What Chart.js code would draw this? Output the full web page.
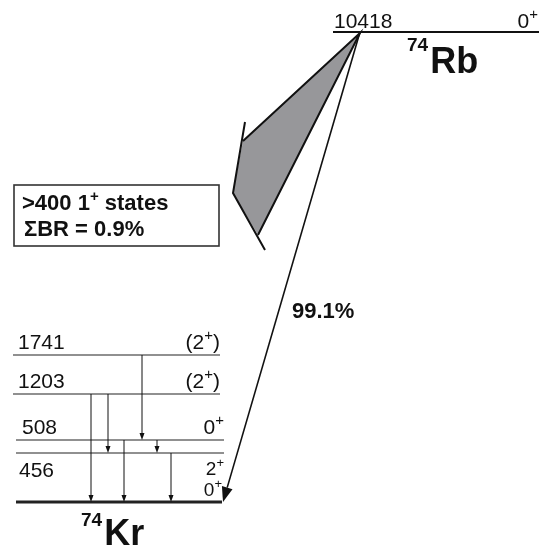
<!DOCTYPE html>
<html>
<head>
<meta charset="utf-8">
<script src="https://cdn.jsdelivr.net/npm/chart.js@4.4.1/dist/chart.umd.min.js"></script>
<style>
html, body { margin: 0; padding: 0; background: #fff; }
#wrap { width: 539px; height: 546px; }
</style>
</head>
<body>
<div id="wrap"><canvas id="scheme" width="539" height="546"></canvas></div>
<script>
'use strict';

// 74Rb -> 74Kr beta decay scheme
let parentEnergy = 10418;
let parentSpin = '0+';
let parentName = ['74', 'Rb'];
let daughterName = ['74', 'Kr'];

let levelEnergy = [0, 456, 508, 1203, 1741];
let levelSpin = ['0+', '2+', '0+', '(2+)', '(2+)'];

let gammaFrom = [1741, 1203, 1203, 508, 508, 456];
let gammaTo = [508, 456, 0, 456, 0, 0];

let branchGround = '99.1%';
let branchStates = ['>400 1+ states', 'ΣBR = 0.9%'];

// schematic layout (plot units = pixels)
let rowY = {10418: 32, 1741: 355, 1203: 394, 508: 440, 456: 453, 0: 502};
let levelX0 = [16, 16, 16, 13, 13];
let levelX1 = [222, 224, 224, 220, 220];
let gammaX = [142, 108, 91, 157, 124, 171];
let statesShape = [[360, 33], [243, 141], [233, 193], [258, 235]];

const FONT = '"Liberation Sans", Arial, Helvetica, sans-serif';

function arrow(ctx, x1, y1, x2, y2, len, wid, lw) {
    let a = Math.atan2(y2 - y1, x2 - x1);
    let bx = x2 - len * Math.cos(a), by = y2 - len * Math.sin(a);
    ctx.lineWidth = lw;
    ctx.beginPath();
    ctx.moveTo(x1, y1);
    ctx.lineTo(bx, by);
    ctx.stroke();
    ctx.beginPath();
    ctx.moveTo(x2, y2);
    ctx.lineTo(bx + wid / 2 * Math.sin(a), by - wid / 2 * Math.cos(a));
    ctx.lineTo(bx - wid / 2 * Math.sin(a), by + wid / 2 * Math.cos(a));
    ctx.closePath();
    ctx.fill();
}

// draws spin like "(2+)" with the sign raised; align 'left' or 'right'
function spinText(ctx, s, x, y, size, align) {
    let m = s.match(/^(\(?\d)([+-])(\)?)$/);
    let f1 = size + 'px ' + FONT, f2 = Math.round(size * 0.7) + 'px ' + FONT;
    ctx.font = f1; let w1 = ctx.measureText(m[1]).width;
    let w3 = ctx.measureText(m[3]).width;
    ctx.font = f2; let w2 = ctx.measureText(m[2]).width;
    let x0 = align === 'right' ? x - (w1 + w2 + w3) : x;
    ctx.textAlign = 'left';
    ctx.font = f1; ctx.fillText(m[1], x0, y);
    ctx.font = f2; ctx.fillText(m[2], x0 + w1, y - size * 0.42);
    ctx.font = f1; ctx.fillText(m[3], x0 + w1 + w2, y);
}

function nucleus(ctx, name, x, y, big, small, rise) {
    ctx.textAlign = 'left';
    ctx.font = 'bold ' + small + 'px ' + FONT;
    ctx.fillText(name[0], x, y - rise);
    let w = ctx.measureText(name[0]).width;
    ctx.font = 'bold ' + big + 'px ' + FONT;
    ctx.fillText(name[1], x + w + 2, y);
}

let datasets = [];
datasets.push({
    data: [{x: 333, y: rowY[parentEnergy]}, {x: 539, y: rowY[parentEnergy]}],
    borderColor: '#111', borderWidth: 2
});
levelEnergy.forEach(function (e, i) {
    datasets.push({
        data: [{x: levelX0[i], y: rowY[e]}, {x: levelX1[i], y: rowY[e]}],
        borderColor: '#222', borderWidth: e === 0 ? 3 : 1.2
    });
});

let schemePlugin = {
    id: 'scheme',
    beforeDatasetsDraw(chart) {
        let ctx = chart.ctx, sx = chart.scales.x, sy = chart.scales.y;
        let P = function (p) { return [sx.getPixelForValue(p[0]), sy.getPixelForValue(p[1])]; };
        ctx.save();
        ctx.beginPath();
        statesShape.forEach(function (p, i) {
            let q = P(p);
            if (i === 0) ctx.moveTo(q[0], q[1]); else ctx.lineTo(q[0], q[1]);
        });
        ctx.closePath();
        ctx.fillStyle = '#97979a';
        ctx.fill();
        ctx.strokeStyle = '#111';
        ctx.lineWidth = 2;
        ctx.beginPath();
        let a = P(statesShape[1]), b = P(statesShape[0]), c = P(statesShape[3]);
        ctx.moveTo(a[0], a[1]); ctx.lineTo(b[0], b[1]); ctx.lineTo(c[0], c[1]);
        ctx.stroke();
        ctx.beginPath();
        let d = P([245, 122]), e = P(statesShape[2]), f = P([265, 250]);
        ctx.moveTo(d[0], d[1]); ctx.lineTo(e[0], e[1]); ctx.lineTo(f[0], f[1]);
        ctx.stroke();
        ctx.restore();
    },
    afterDatasetsDraw(chart) {
        let ctx = chart.ctx, sx = chart.scales.x, sy = chart.scales.y;
        ctx.save();
        ctx.fillStyle = '#111';
        ctx.strokeStyle = '#111';

        // ground-state beta branch
        arrow(ctx, sx.getPixelForValue(360), sy.getPixelForValue(rowY[parentEnergy]),
              sx.getPixelForValue(223), sy.getPixelForValue(rowY[0]), 15, 11, 1.6);

        // gamma transitions
        gammaFrom.forEach(function (e, i) {
            let x = sx.getPixelForValue(gammaX[i]);
            arrow(ctx, x, sy.getPixelForValue(rowY[e]), x, sy.getPixelForValue(rowY[gammaTo[i]]), 7, 5, 1);
        });

        // parent level text
        ctx.textBaseline = 'alphabetic';
        ctx.font = '21px ' + FONT;
        ctx.textAlign = 'left';
        ctx.fillText(String(parentEnergy), sx.getPixelForValue(334), sy.getPixelForValue(28));
        spinText(ctx, parentSpin, sx.getPixelForValue(538), sy.getPixelForValue(28), 21, 'right');
        nucleus(ctx, parentName, sx.getPixelForValue(407), sy.getPixelForValue(73), 36, 19, 22);

        // level labels
        levelEnergy.forEach(function (e, i) {
            let y = sy.getPixelForValue(rowY[e]);
            let lblY = e === 456 ? y + 24 : y - 6;
            if (e !== 0) {
                ctx.font = '21px ' + FONT;
                ctx.textAlign = 'left';
                ctx.fillText(String(e), sx.getPixelForValue(e >= 1000 ? 18 : (e === 508 ? 22 : 19)), lblY);
            }
            let spinY = e === 456 ? y + 22 : y - 6;
            let sz = e === 456 || e === 0 ? 19 : 21;
            spinText(ctx, levelSpin[i], sx.getPixelForValue(levelX1[i]), spinY, sz, 'right');
        });

        nucleus(ctx, daughterName, sx.getPixelForValue(81), sy.getPixelForValue(545), 36, 19, 19);

        // 99.1 %
        ctx.font = 'bold 22px ' + FONT;
        ctx.textAlign = 'left';
        ctx.fillText(branchGround, sx.getPixelForValue(292), sy.getPixelForValue(318));

        // box of 1+ states
        ctx.lineWidth = 1.6;
        ctx.strokeStyle = '#333';
        let bx0 = sx.getPixelForValue(14), by0 = sy.getPixelForValue(185);
        ctx.strokeRect(bx0, by0, sx.getPixelForValue(219) - bx0, sy.getPixelForValue(246) - by0);
        let t = branchStates[0].split('+');
        ctx.font = 'bold 22px ' + FONT;
        let tx = sx.getPixelForValue(22), ty = sy.getPixelForValue(210);
        ctx.fillText(t[0], tx, ty);
        let w = ctx.measureText(t[0]).width;
        ctx.font = 'bold 15px ' + FONT;
        ctx.fillText('+', tx + w, ty - 9);
        let w2 = ctx.measureText('+').width;
        ctx.font = 'bold 22px ' + FONT;
        ctx.fillText(t[1], tx + w + w2, ty);
        ctx.fillText(branchStates[1], sx.getPixelForValue(24), sy.getPixelForValue(236));
        ctx.restore();
    }
};

window.onload = function () {
    let context = document.querySelector('#scheme').getContext('2d');
    new Chart(context, {
        type: 'scatter',
        data: { datasets: datasets },
        options: {
            responsive: false,
            animation: false,
            events: [],
            showLine: true,
            elements: { point: { radius: 0 }, line: { tension: 0 } },
            layout: { padding: 0 },
            plugins: { legend: { display: false }, tooltip: { enabled: false } },
            scales: {
                x: { type: 'linear', min: 0, max: 539, display: false },
                y: { type: 'linear', min: 0, max: 546, reverse: true, display: false }
            }
        },
        plugins: [schemePlugin]
    });
};
</script>
</body>
</html>
